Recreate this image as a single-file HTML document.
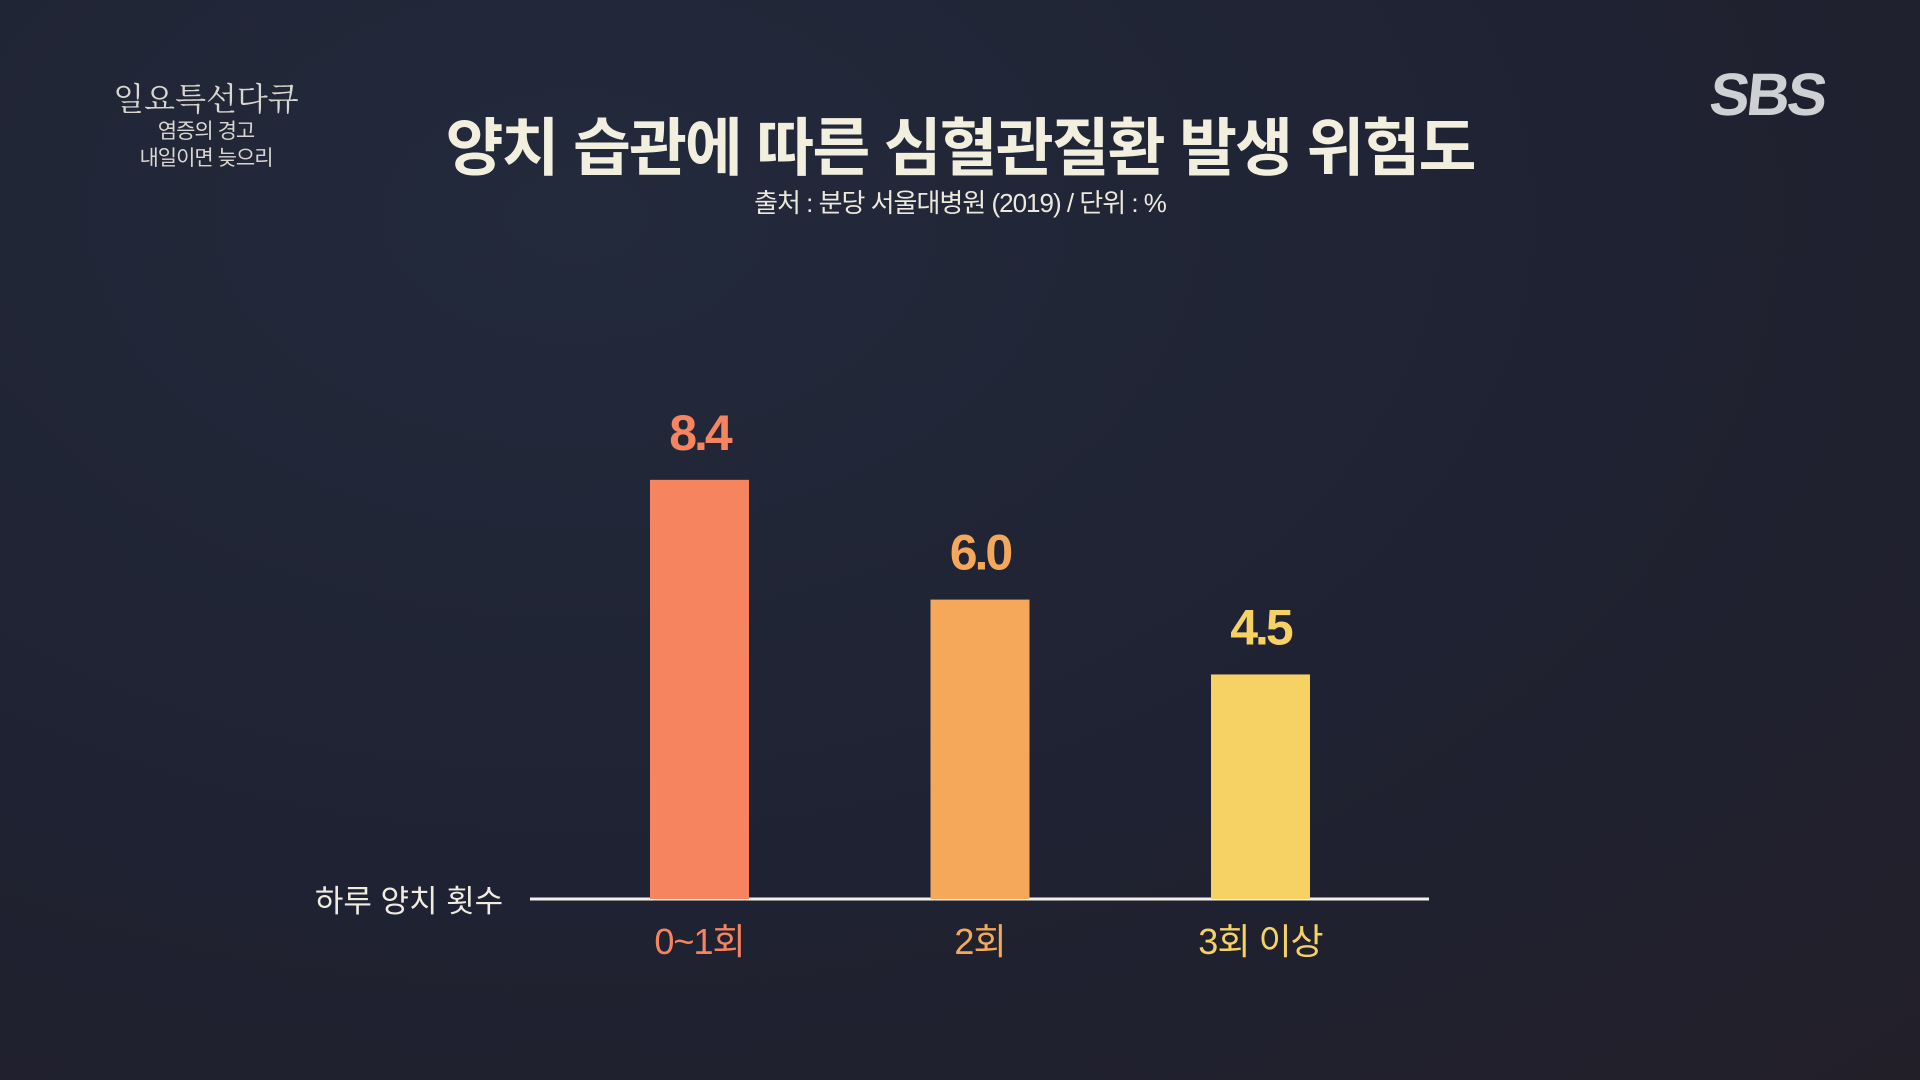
<!DOCTYPE html>
<html><head><meta charset="utf-8"><style>
html,body{margin:0;padding:0}
body{width:1920px;height:1080px;overflow:hidden;position:relative;
background:radial-gradient(ellipse at 30% 20%,#232a3c 0%,#1f2232 55%,#221f29 100%);
font-family:"Liberation Sans","Noto Sans CJK KR",sans-serif;color:#f2eee0}
.abs{position:absolute}
</style></head><body>
<div class="abs" style="left:108px;top:74px;width:196px;text-align:center;font-family:'Noto Serif CJK SC','Noto Sans CJK KR',serif;font-size:32px;color:#d8d6d0">일요특선다큐</div>
<div class="abs" style="left:108px;top:118px;width:196px;text-align:center;font-size:21px;line-height:27px;color:#d8d6d0;letter-spacing:-1px">염증의 경고<br>내일이면 늦으리</div>
<div class="abs" style="left:1710px;top:60px;font-size:60px;font-weight:bold;color:#cfd0d4;letter-spacing:-3px;transform:skewX(-6deg)">SBS</div>
<div class="abs" style="left:0;width:1920px;top:98px;text-align:center;font-size:63px;font-weight:bold;letter-spacing:-2px;color:#f3efdf">양치 습관에 따른 심혈관질환 발생 위험도</div>
<div class="abs" style="left:0;width:1920px;top:183px;text-align:center;font-size:26px;letter-spacing:-1px;color:#ece8dc">출처 : 분당 서울대병원 (2019) / 단위 : %</div>
<svg class="abs" style="left:0;top:0" width="1920" height="1080">
<line x1="530" y1="899" x2="1429" y2="899" stroke="#f3f0ea" stroke-width="3"/>
<text x="409" y="912" text-anchor="middle" font-size="31" fill="#f0ece2" font-family="Liberation Sans,Noto Sans CJK KR,sans-serif">하루 양치 횟수</text>
<g id="bars"></g>
</svg>
<script>
const categories=["0~1회","2회","3회 이상"];
const values=[8.4,6.0,4.5];
const labels=["8.4","6.0","4.5"];
const colors=["#f5845f","#f6a85a","#f6d164"];
const base=899, perUnit=49.9, x0=650, step=280.5, bw=99;
const y=v=>base-v*perUnit;
const xc=i=>x0+i*step;
const g=document.getElementById('bars');
const NS="http://www.w3.org/2000/svg";
values.forEach((v,i)=>{
 const r=document.createElementNS(NS,'rect');
 r.setAttribute('x',xc(i));r.setAttribute('y',y(v));r.setAttribute('width',bw);r.setAttribute('height',base-y(v));r.setAttribute('fill',colors[i]);
 
 
 g.appendChild(r);
 const t=document.createElementNS(NS,'text');
 t.setAttribute('x',xc(i)+bw/2);t.setAttribute('y',y(v)-30);t.setAttribute('text-anchor','middle');
 t.setAttribute('font-size','50');t.setAttribute('font-weight','bold');t.setAttribute('fill',colors[i]);t.setAttribute('letter-spacing','-3');
 t.textContent=labels[i];
 
 
 g.appendChild(t);
 const c=document.createElementNS(NS,'text');
 c.setAttribute('x',xc(i)+bw/2);c.setAttribute('y',954);c.setAttribute('text-anchor','middle');
 c.setAttribute('font-size','36');c.setAttribute('fill',colors[i]);c.setAttribute('letter-spacing','-1');
 c.textContent=categories[i];
 
 
 g.appendChild(c);
});
</script>
</body></html>
